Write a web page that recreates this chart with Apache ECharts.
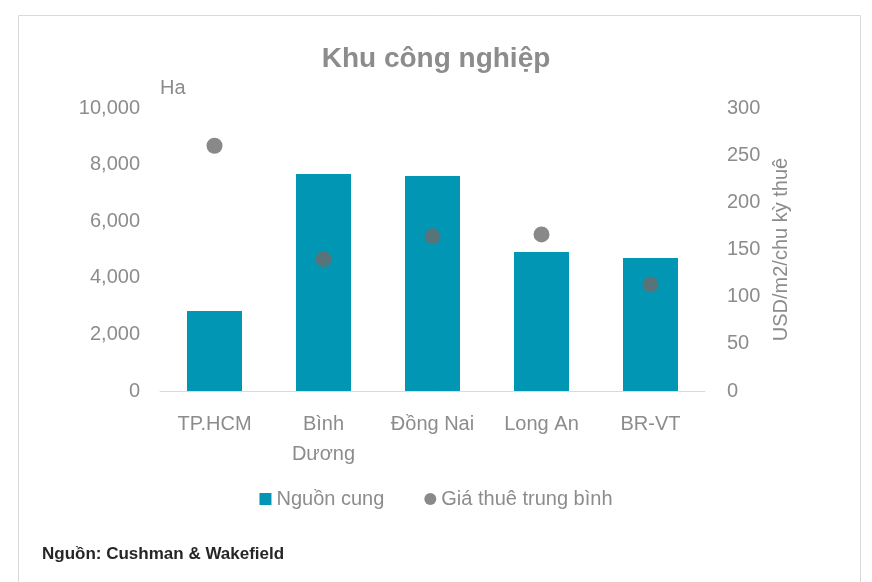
<!DOCTYPE html>
<html><head><meta charset="utf-8">
<script src="https://cdn.jsdelivr.net/npm/echarts@6/dist/echarts.min.js"></script>
<style>html,body{margin:0;padding:0;background:#fff}#c{width:872px;height:582px}</style>
</head><body><div id="c"></div>
<script>
const categories = ['TP.HCM', 'Bình\nDương', 'Đồng Nai', 'Long An', 'BR-VT'];
const supply = [2830, 7670, 7600, 4910, 4700];
const rent = [260, 140, 164, 166, 113];
const grey = '#8c8c8c';
const font = 'Liberation Sans';
const chart = echarts.init(document.getElementById('c'));
chart.setOption({
  animation: false,
  textStyle: { fontFamily: font },
  graphic: [
    { type: 'rect', shape: { x: 18.5, y: 15.5, width: 842, height: 580 }, style: { fill: 'none', stroke: '#d9d9d9', lineWidth: 1 } },
    { type: 'text', left: 42, top: 546, style: { text: 'Nguồn: Cushman & Wakefield', font: 'bold 17px "Liberation Sans"', fill: '#262626' } }
  ],
  title: { text: 'Khu công nghiệp', left: 'center', top: 40, textStyle: { color: grey, fontSize: 28, fontWeight: 'bold', fontFamily: font } },
  legend: { bottom: 68, itemGap: 40, textStyle: { color: grey, fontSize: 20, fontFamily: font },
    data: [{ name: 'Nguồn cung', icon: 'rect' }, { name: 'Giá thuê trung bình', icon: 'circle' }], itemWidth: 12, itemHeight: 12 },
  grid: { left: 160, right: 167, top: 108, bottom: 191 },
  xAxis: { type: 'category', data: categories,
    axisLine: { lineStyle: { color: '#d9d9d9' } }, axisTick: { show: false },
    axisLabel: { color: grey, fontSize: 20, lineHeight: 30, margin: 18 } },
  yAxis: [
    { type: 'value', min: 0, max: 10000, interval: 2000, name: 'Ha', nameGap: 10,
      nameTextStyle: { color: grey, fontSize: 20, align: 'left', padding: [0, 0, 0, 0] },
      splitLine: { show: false },
      axisLabel: { color: grey, fontSize: 20, margin: 20, formatter: v => v.toLocaleString('en-US') } },
    { type: 'value', min: 0, max: 300, interval: 50, name: 'USD/m2/chu kỳ thuê',
      nameLocation: 'middle', nameGap: 62, nameRotate: 90,
      nameTextStyle: { color: grey, fontSize: 20 },
      splitLine: { show: false },
      axisLabel: { color: grey, fontSize: 20, margin: 22 } }
  ],
  series: [
    { name: 'Nguồn cung', type: 'bar', data: supply, barWidth: 55, itemStyle: { color: '#0096b4' } },
    { name: 'Giá thuê trung bình', type: 'scatter', yAxisIndex: 1, data: rent, symbolSize: 16, itemStyle: { color: '#6b6b6b' } }
  ]
});
</script></body></html>
